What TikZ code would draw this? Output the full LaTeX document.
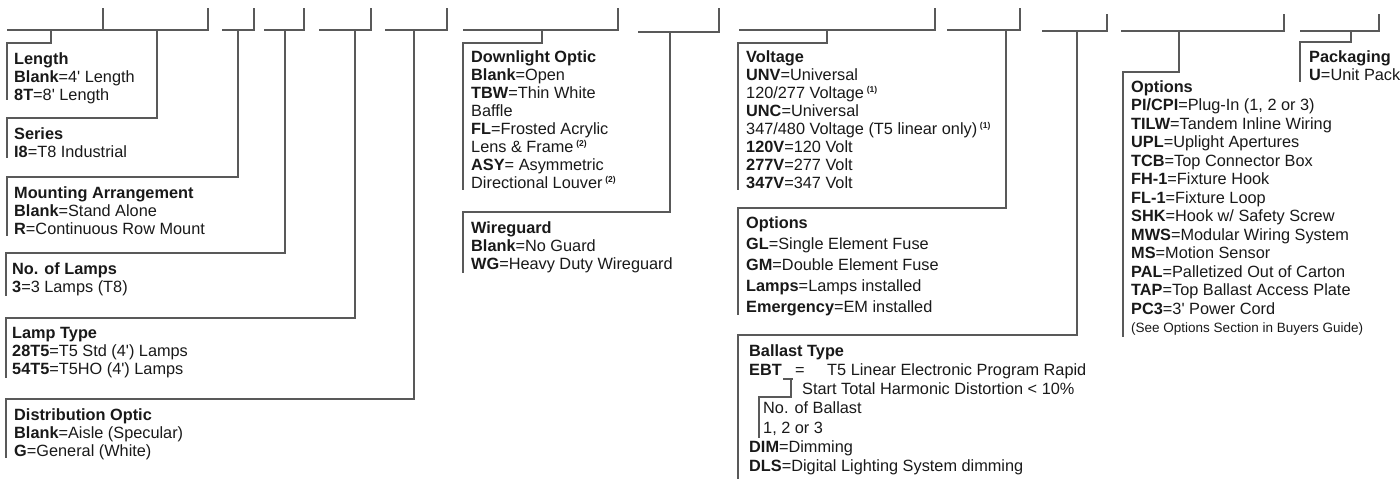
\documentclass[tikz,border=0pt]{standalone}
\usepackage{fontspec}
\setmainfont{Liberation Sans}
\newcommand{\blk}[1]{\begin{tabular}[t]{@{}l@{}}#1\end{tabular}}
\newcommand{\fnref}[1]{\,\raisebox{5.5pt}{\fontsize{8.5}{8.5}\selectfont\bfseries(#1)}}
\newcommand{\qs}{\textquotesingle}

\begin{document}
\begin{tikzpicture}[x=1pt,y=-1pt,
  bar/.style={draw=black!65,line width=1.2pt},
  lead/.style={draw=black!65,line width=1.2pt},
  lbl/.style={anchor=base west,inner sep=0pt,text=black!90,font=\fontsize{16.3}{18}\selectfont}]
\useasboundingbox (0,0) rectangle (1400,479);

\foreach \a/\b/\t/\y in {7/103/8/30, 103/208/8/30, 222/254/8/30, 264/304/8/30, 319/371/8/30, 385/447/8/30, 463/618/8/30, 638/719/8/32, 739/935/8/30, 947/1020/8/30, 1042/1107/14/31, 1121/1284/14/31, 1300/1379/14/31}
  \draw[bar] (\a,\y) -- (\b,\y) -- (\b,\t);

\foreach \nm/\dx/\by/\ty/\lx/\ey in {len/51/30/43/7/100, ser/157/30/118/7/158, mnt/238/30/177/7/236, nol/285/30/253/6/296, ltp/355/30/318/6/378, dst/414/30/399/6/458, dlo/542/30/43/463/190, wrg/670/32/212/463/273, vlt/827/30/43/738/190, opt/1006/30/208/738/315, bal/1077/31/335/738/479, opr/1179/31/72/1123/337, pkg/1351/31/42/1300/82}{
  \coordinate (\nm-a) at (\dx,\by);
  \coordinate (\nm-b) at (\lx,\ty);
  \coordinate (\nm-c) at (\lx,\ey);
  \draw[lead] (\nm-a) |- (\nm-b) -- (\nm-c);
}

\node[lbl] (len) at (14,64) {\blk{\textbf{Length}\\\textbf{Blank}=4\qs{} Length\\\textbf{8T}=8\qs{} Length}};
\node[lbl] (ser) at (14,139) {\blk{\textbf{Series}\\\textbf{I8}=T8 Industrial}};
\node[lbl] (mnt) at (14,198) {\blk{\textbf{Mounting Arrangement}\\\textbf{Blank}=Stand Alone\\\textbf{R}=Continuous Row Mount}};
\node[lbl] (nol) at (12,274) {\blk{\textbf{No. of Lamps}\\\textbf{3}=3 Lamps (T8)}};
\node[lbl] (ltp) at (12,338) {\blk{\textbf{Lamp Type}\\\textbf{28T5}=T5 Std (4\qs) Lamps\\\textbf{54T5}=T5HO (4\qs) Lamps}};
\node[lbl] (dst) at (14,420) {\blk{\textbf{Distribution Optic}\\\textbf{Blank}=Aisle (Specular)\\\textbf{G}=General (White)}};

\node[lbl] (dlo) at (471,62) {\blk{\textbf{Downlight Optic}\\\textbf{Blank}=Open\\\textbf{TBW}=Thin White\\Baffle\\\textbf{FL}=Frosted Acrylic\\Lens \& Frame\fnref{2}\\\textbf{ASY}= Asymmetric\\Directional Louver\fnref{2}}};
\node[lbl] (wrg) at (471,233) {\blk{\textbf{Wireguard}\\\textbf{Blank}=No Guard\\\textbf{WG}=Heavy Duty Wireguard}};

\node[lbl] (vlt) at (746,62) {\blk{\textbf{Voltage}\\\textbf{UNV}=Universal\\120/277 Voltage\fnref{1}\\\textbf{UNC}=Universal\\347/480 Voltage (T5 linear only)\fnref{1}\\\textbf{120V}=120 Volt\\\textbf{277V}=277 Volt\\\textbf{347V}=347 Volt}};
\node[lbl,font=\fontsize{16.3}{21}\selectfont] (opt) at (746,228) {\blk{\textbf{Options}\\\textbf{GL}=Single Element Fuse\\\textbf{GM}=Double Element Fuse\\\textbf{Lamps}=Lamps installed\\\textbf{Emergency}=EM installed}};
\node[lbl,font=\fontsize{16.3}{19.3}\selectfont] (bal) at (749,356) {\blk{\textbf{Ballast Type}\\
\makebox[46pt][l]{\textbf{EBT}}\makebox[32pt][l]{=}T5 Linear Electronic Program Rapid\\
\hspace{53pt}Start Total Harmonic Distortion < 10\%\\
\hspace{14pt}No. of Ballast\\
\hspace{14pt}1, 2 or 3\\
\textbf{DIM}=Dimming\\
\textbf{DLS}=Digital Lighting System dimming}};
\coordinate (ebt-l) at (783,379);
\coordinate (ebt-r) at (793,379);
\coordinate (ebt-k) at (791,379);
\coordinate (nob-t) at (759,397);
\coordinate (nob-b) at (759,438);
\draw[lead] (ebt-l) -- (ebt-r);
\draw[lead] (ebt-k) |- (nob-t) -- (nob-b);

\node[lbl,font=\fontsize{16.3}{18.5}\selectfont] (opr) at (1131,92) {\blk{\textbf{Options}\\\textbf{PI/CPI}=Plug-In (1, 2 or 3)\\\textbf{TILW}=Tandem Inline Wiring\\\textbf{UPL}=Uplight Apertures\\\textbf{TCB}=Top Connector Box\\\textbf{FH-1}=Fixture Hook\\\textbf{FL-1}=Fixture Loop\\\textbf{SHK}=Hook w/ Safety Screw\\\textbf{MWS}=Modular Wiring System\\\textbf{MS}=Motion Sensor\\\textbf{PAL}=Palletized Out of Carton\\\textbf{TAP}=Top Ballast Access Plate\\\textbf{PC3}=3\qs{} Power Cord\\{\fontsize{13.5}{15}\selectfont (See Options Section in Buyers Guide)}}};
\node[lbl] (pkg) at (1309,62) {\blk{\textbf{Packaging}\\\textbf{U}=Unit Pack}};
\end{tikzpicture}
\end{document}
